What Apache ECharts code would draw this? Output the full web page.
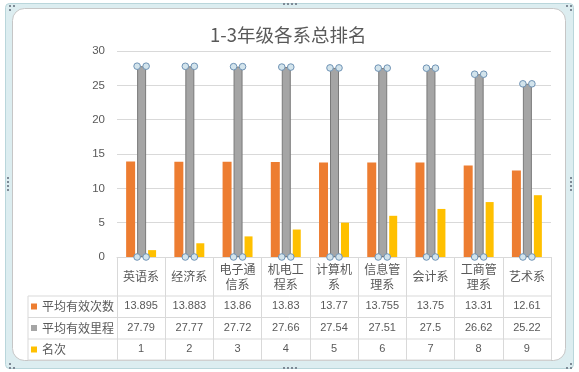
<!DOCTYPE html>
<html>
<head>
<meta charset="utf-8">
<script src="https://cdn.jsdelivr.net/npm/echarts@6/dist/echarts.min.js"></script>
<style>html,body{margin:0;padding:0;background:#fff;}#c{width:579px;height:372px;}</style>
</head>
<body>
<div id="c"></div>
<script>
var categories = ['英语系','经济系','电子通信系','机电工程系','计算机系','信息管理系','会计系','工商管理系','艺术系'];
var seriesNames = ['平均有效次数','平均有效里程','名次'];
var avgCount = [13.895, 13.883, 13.86, 13.83, 13.77, 13.755, 13.75, 13.31, 12.61];
var avgMileage = [27.79, 27.77, 27.72, 27.66, 27.54, 27.51, 27.5, 26.62, 25.22];
var rank = [1, 2, 3, 4, 5, 6, 7, 8, 9];
var yTicks = {min: 0, max: 30, interval: 5};
var title = '1-3年级各系总排名';

var colors = ['#ED7D31', '#A5A5A5', '#FFC000'];
var txt = '#595959';
var lineC = '#d9d9d9';
var cjk = '"Noto Sans CJK SC", sans-serif';
var num = '"Liberation Sans", Arial, sans-serif';

// layout constants (pixels)
var GL = 117, GR = 551, GT = 51, GB = 257;
var rowLines = [296, 317.5, 339, 360];
var tableLeft = 28;

var chart = echarts.init(document.getElementById('c'), null, {renderer: 'canvas'});

function rowAxis(data, offset) {
  return {
    type: 'category', gridIndex: 0, position: 'bottom', offset: offset,
    data: data.map(String),
    axisLine: {show: false}, axisTick: {show: false}, splitLine: {show: false},
    axisLabel: {interval: 0, margin: 0, fontSize: 11, color: txt, fontFamily: num, verticalAlign: 'top'}
  };
}

var graphics = [
  {type: 'rect', z: -10, shape: {x: 5.5, y: 3.5, width: 568, height: 365, r: 4}, style: {fill: '#dcedf0', stroke: '#b9d6db', lineWidth: 1}},
  {type: 'rect', z: -9, shape: {x: 12.5, y: 8.5, width: 553, height: 352, r: 12}, style: {fill: '#ffffff', stroke: '#c6c6c6', lineWidth: 1}}
];
rowLines.forEach(function (y) {
  graphics.push({type: 'line', z: -5, shape: {x1: tableLeft, y1: y, x2: GR, y2: y}, style: {stroke: lineC, lineWidth: 1}});
});
graphics.push({type: 'line', z: -5, shape: {x1: tableLeft, y1: rowLines[0], x2: tableLeft, y2: rowLines[3]}, style: {stroke: lineC, lineWidth: 1}});
var dots = [];
[283, 287, 291, 295].forEach(function (x) { dots.push([x, 3]); dots.push([x, 367]); });
[177, 181, 185, 189].forEach(function (y) { dots.push([7, y]); dots.push([570, y]); });
[[9,5],[13,5],[9,9],[566,5],[570,5],[570,9],[9,363],[9,367],[13,367],[570,363],[566,367],[570,367]].forEach(function (d) { dots.push(d); });
dots.forEach(function (d) {
  graphics.push({type: 'rect', z: -4, shape: {x: d[0], y: d[1], width: 2, height: 2}, style: {fill: '#7d8a96'}});
});

var option = {
  animation: false,
  backgroundColor: '#fff',
  title: {
    text: title, left: 205, top: 21,
    textStyle: {fontSize: 18.5, fontWeight: 'normal', color: txt, fontFamily: cjk}
  },
  legend: {
    data: seriesNames, orient: 'vertical', left: 31, top: 299.5,
    itemWidth: 6, itemHeight: 6, itemGap: 7.5, padding: 0, icon: 'rect', selectedMode: false,
    itemStyle: {borderWidth: 0},
    textStyle: {fontSize: 12, color: txt, fontFamily: cjk, lineHeight: 14}
  },
  grid: {left: GL, right: 579 - GR, top: GT, bottom: 372 - GB, containLabel: false},
  xAxis: [
    {
      type: 'category', data: categories, gridIndex: 0, position: 'bottom',
      axisLine: {show: true, lineStyle: {color: lineC}},
      axisTick: {show: true, interval: 0, length: rowLines[3] - GB, lineStyle: {color: lineC}},
      axisLabel: {interval: 0, margin: 19.5, fontSize: 12, lineHeight: 15, color: txt, fontFamily: cjk,
                  verticalAlign: 'middle', width: 44, overflow: 'break'}
    },
    rowAxis(avgCount, 43.5),
    rowAxis(avgMileage, 65),
    rowAxis(rank, 86.5)
  ],
  yAxis: {
    type: 'value', min: yTicks.min, max: yTicks.max, interval: yTicks.interval,
    axisLine: {show: false}, axisTick: {show: false},
    splitLine: {lineStyle: {color: lineC}},
    axisLabel: {fontSize: 11.5, color: txt, fontFamily: num, margin: 12}
  },
  series: [
    {name: seriesNames[0], type: 'bar', data: avgCount, barWidth: 9, barGap: '22%', itemStyle: {color: colors[0]}},
    {name: seriesNames[1], type: 'bar', data: avgMileage, barWidth: 9, barGap: '22%', itemStyle: {color: colors[1], borderColor: '#7a7a7a', borderWidth: 1}},
    {name: seriesNames[2], type: 'bar', data: rank, barWidth: 8, barGap: '22%', itemStyle: {color: colors[2]}},
    {
      name: 'handles', type: 'custom', z: 10, silent: true,
      data: avgMileage.map(function (v, i) { return [i, v]; }),
      renderItem: function (params, api) {
        var top = api.coord([api.value(0), api.value(1)]);
        var base = api.coord([api.value(0), 0]);
        var cx = top[0] + 0.5, hw = 4.5, r = 3.3;
        var pts = [[cx - hw, top[1]], [cx + hw, top[1]], [cx - hw, base[1]], [cx + hw, base[1]]];
        return {
          type: 'group',
          children: pts.map(function (p) {
            return {type: 'circle', shape: {cx: p[0], cy: p[1], r: r}, style: {fill: '#d3e4ec', stroke: '#6f93b5', lineWidth: 1}};
          })
        };
      }
    }
  ],
  graphic: graphics
};
chart.setOption(option);
</script>
</body>
</html>
